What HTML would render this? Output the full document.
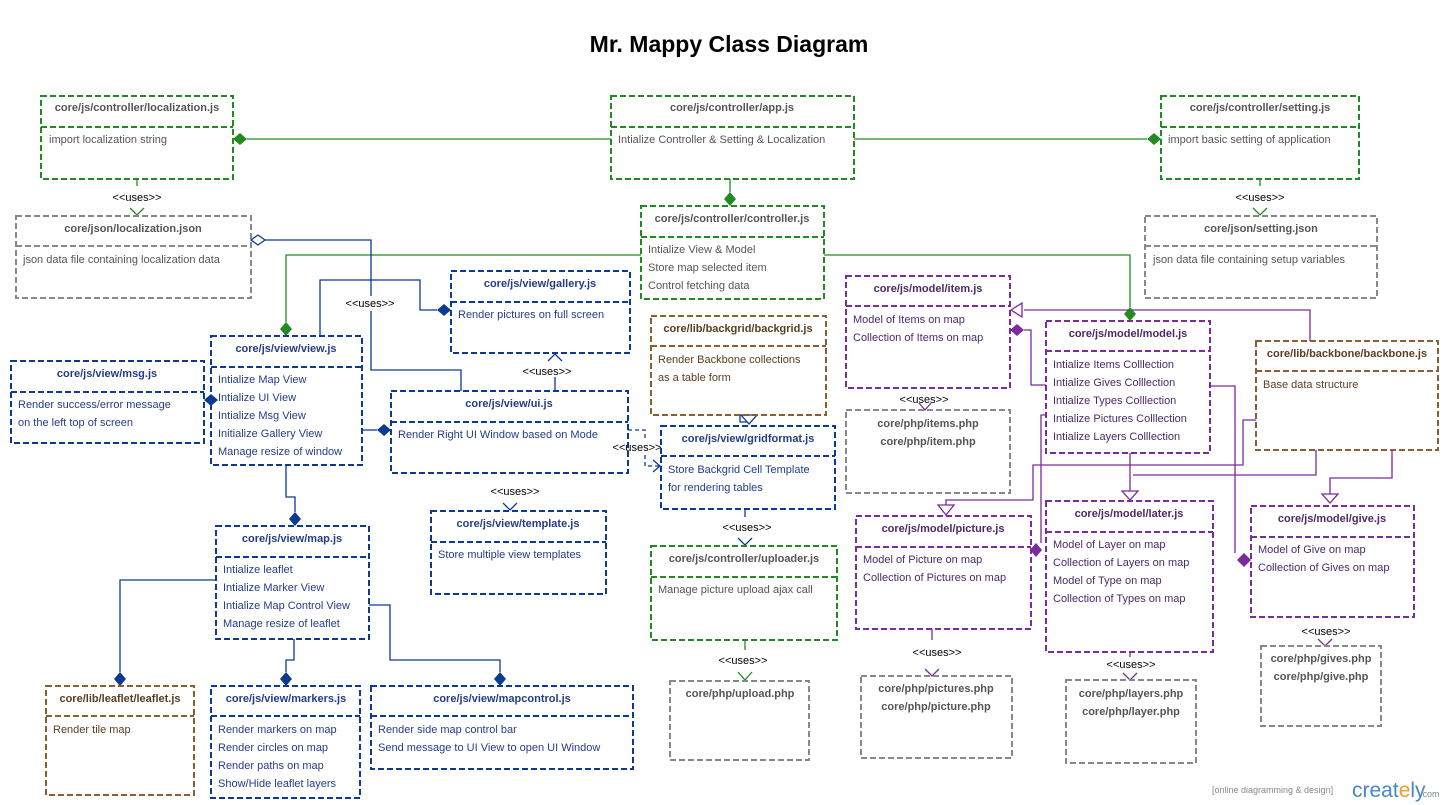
<!DOCTYPE html>
<html><head><meta charset="utf-8"><style>
html,body{margin:0;padding:0;background:#fff}
svg{display:block}
text{font-family:"Liberation Sans",sans-serif;font-size:11px}
.t{font-weight:bold;text-anchor:middle}
.c{text-anchor:middle;font-weight:bold}
.u{font-size:11px;fill:#000;text-anchor:middle}
.bx{fill:none;stroke-width:2;stroke-dasharray:6,3}
.g{stroke:#238a23}.gt{fill:#555}
.bl{stroke:#0c3a91}.blt{fill:#253d85}
.p{stroke:#7a2b9c}.pt{fill:#4a2b66}
.br{stroke:#8b5e34}.brt{fill:#5a3e22}
.gr{stroke:#888}.grt{fill:#555}
</style></head><body>
<svg width="1450" height="805" viewBox="0 0 1450 805" xmlns="http://www.w3.org/2000/svg">
<text x="729" y="52" style="font-size:23px;font-weight:bold;text-anchor:middle" fill="#000">Mr. Mappy Class Diagram</text>

<g fill="none" stroke-width="1.3">
<g stroke="#238a23">
<line x1="247" y1="139" x2="611" y2="139"/>
<line x1="854" y1="139" x2="1147" y2="139"/>
<line x1="730" y1="179" x2="730" y2="192"/>
<polyline points="641,255 286,255 286,322"/>
<polyline points="824,255 1130,255 1130,307"/>
<line x1="137" y1="179" x2="137" y2="186"/>
<polyline points="130,208 137,215 144,208"/>
<line x1="1260" y1="179" x2="1260" y2="186"/>
<polyline points="1253,208 1260,215 1267,208"/>
<line x1="745" y1="640" x2="745" y2="650"/>
<polyline points="738,672 745,680 752,672"/>
</g>
<g stroke="#0c3a91">
<polyline points="265,240 371,240 371,296"/>
<polyline points="371,311 371,370 461,370 461,391"/>
<polyline points="320,336 320,280 420,280 420,310 437,310"/>
<polyline points="362,430 377,430"/>
<polyline points="286,465 286,497 295,497 295,512"/>
<polyline points="216,580 120,580 120,672"/>
<polyline points="294,639 294,660 286,660 286,672"/>
<polyline points="369,605 390,605 390,660 500,660 500,672"/>
<line x1="555" y1="377" x2="555" y2="391"/>
<polyline points="548,361 555,354 562,361"/>
<polyline points="503,503 510,510 517,503"/>
<line x1="745" y1="509" x2="745" y2="517"/>
<polyline points="738,538 745,545 752,538"/>
<polyline points="628,430 645,430 645,440" stroke-dasharray="4,3"/>
<polyline points="645,455 645,466 660,466" stroke-dasharray="4,3"/>
<polyline points="653,460 660,466 653,472"/>
<polyline points="740,415 740,422 748,422"/>
<polygon points="741,415 757,415 749,424" fill="#fff"/>
</g>
<g stroke="#7a2b9c">
<polyline points="1310,341 1310,310 1024,310"/>
<polygon points="1011,310 1022,303 1022,317" fill="#fff"/>
<polyline points="1046,385 1031,385 1031,330 1024,330"/>
<polyline points="1046,415 1041,415 1041,543"/>
<polyline points="1210,386 1235,386 1235,553"/>
<polyline points="1130,453 1130,491"/>
<polyline points="1316,450 1316,475 1133,475"/>
<polygon points="1122,491 1138,491 1130,500" fill="#fff"/>
<polyline points="1256,420 1243,420 1243,465 1033,465 1033,500 946,500 946,505"/>
<polygon points="938,505 954,505 946,515" fill="#fff"/>
<polyline points="1392,450 1392,478 1330,478 1330,494"/>
<polygon points="1322,494 1338,494 1330,503" fill="#fff"/>
<polyline points="919,403 925,410 931,403"/>
<polyline points="925,669 932,676 939,669"/>
<line x1="932" y1="629" x2="932" y2="640"/>
<line x1="1130" y1="652" x2="1130" y2="657"/>
<polyline points="1123,673 1130,680 1137,673"/>
<polyline points="1318,639 1325,646 1332,639"/>
</g>
</g>
<g fill="#238a23"><polygon points="233,139 240,133 247,139 240,145"/><polygon points="1147,139 1154,133 1161,139 1154,145"/><polygon points="730,192 736,199 730,206 724,199"/><polygon points="286,322 292,329 286,336 280,329"/><polygon points="1130,307 1136,314 1130,321 1124,314"/></g>
<polygon points="251,240 258,235 265,240 258,245" fill="#fff" stroke="#0c3a91" stroke-width="1.3"/>
<g fill="#0c3a91"><polygon points="437,310 444,304 451,310 444,316"/><polygon points="204,400 211,394 218,400 211,406"/><polygon points="377,430 384,424 391,430 384,436"/><polygon points="295,512 301,519 295,526 289,519"/><polygon points="120,672 126,679 120,686 114,679"/><polygon points="286,672 292,679 286,686 280,679"/><polygon points="500,672 506,679 500,686 494,679"/></g>
<g fill="#7a2b9c"><polygon points="1010,330 1017,324 1024,330 1017,336"/><polygon points="1030,550 1036,543 1042,550 1036,557"/><polygon points="1237,560 1244,553 1251,560 1244,567"/></g>

<text class="u" x="137" y="201">&lt;&lt;uses&gt;&gt;</text>
<text class="u" x="1260" y="201">&lt;&lt;uses&gt;&gt;</text>
<text class="u" x="370" y="307">&lt;&lt;uses&gt;&gt;</text>
<text class="u" x="547" y="375">&lt;&lt;uses&gt;&gt;</text>
<text class="u" x="637" y="451">&lt;&lt;uses&gt;&gt;</text>
<text class="u" x="515" y="495">&lt;&lt;uses&gt;&gt;</text>
<text class="u" x="747" y="531">&lt;&lt;uses&gt;&gt;</text>
<text class="u" x="743" y="664">&lt;&lt;uses&gt;&gt;</text>
<text class="u" x="924" y="403">&lt;&lt;uses&gt;&gt;</text>
<text class="u" x="937" y="656">&lt;&lt;uses&gt;&gt;</text>
<text class="u" x="1131" y="668">&lt;&lt;uses&gt;&gt;</text>
<text class="u" x="1326" y="635">&lt;&lt;uses&gt;&gt;</text>

<g class="bx g"><rect x="41" y="96" width="192" height="83"/><line x1="41" y1="127" x2="233" y2="127"/></g>
<text class="t gt" x="137" y="111">core/js/controller/localization.js</text>
<text class="gt" x="49" y="143">import localization string</text>

<g class="bx g"><rect x="611" y="96" width="243" height="83"/><line x1="611" y1="127" x2="854" y2="127"/></g>
<text class="t gt" x="732" y="111">core/js/controller/app.js</text>
<text class="gt" x="618" y="143">Intialize Controller &amp; Setting &amp; Localization</text>

<g class="bx g"><rect x="1161" y="96" width="198" height="83"/><line x1="1161" y1="127" x2="1359" y2="127"/></g>
<text class="t gt" x="1260" y="111">core/js/controller/setting.js</text>
<text class="gt" x="1168" y="143">import basic setting of application</text>

<g class="bx gr"><rect x="16" y="216" width="235" height="82"/><line x1="16" y1="246" x2="251" y2="246"/></g>
<text class="t grt" x="133" y="232">core/json/localization.json</text>
<text class="grt" x="23" y="263">json data file containing localization data</text>

<g class="bx g"><rect x="641" y="206" width="183" height="93"/><line x1="641" y1="237" x2="824" y2="237"/></g>
<text class="t gt" x="732" y="222">core/js/controller/controller.js</text>
<text class="gt" x="648" y="253">Intialize View &amp; Model</text>
<text class="gt" x="648" y="271">Store map selected item</text>
<text class="gt" x="648" y="289">Control fetching data</text>

<g class="bx gr"><rect x="1145" y="216" width="232" height="82"/><line x1="1145" y1="246" x2="1377" y2="246"/></g>
<text class="t grt" x="1261" y="232">core/json/setting.json</text>
<text class="grt" x="1153" y="263">json data file containing setup variables</text>

<g class="bx bl"><rect x="451" y="271" width="179" height="82"/><line x1="451" y1="302" x2="630" y2="302"/></g>
<text class="t blt" x="540" y="287">core/js/view/gallery.js</text>
<text class="blt" x="458" y="318">Render pictures on full screen</text>

<g class="bx br"><rect x="651" y="316" width="175" height="99"/><line x1="651" y1="346" x2="826" y2="346"/></g>
<text class="t brt" x="738" y="332">core/lib/backgrid/backgrid.js</text>
<text class="brt" x="658" y="363">Render Backbone collections</text>
<text class="brt" x="658" y="381">as a table form</text>

<g class="bx p"><rect x="846" y="276" width="164" height="112"/><line x1="846" y1="306" x2="1010" y2="306"/></g>
<text class="t pt" x="928" y="292">core/js/model/item.js</text>
<text class="pt" x="853" y="323">Model of Items on map</text>
<text class="pt" x="853" y="341">Collection of Items on map</text>

<g class="bx p"><rect x="1046" y="321" width="164" height="132"/><line x1="1046" y1="351" x2="1210" y2="351"/></g>
<text class="t pt" x="1128" y="337">core/js/model/model.js</text>
<text class="pt" x="1053" y="368">Intialize Items Colllection</text>
<text class="pt" x="1053" y="386">Intialize Gives Colllection</text>
<text class="pt" x="1053" y="404">Intialize Types Colllection</text>
<text class="pt" x="1053" y="422">Intialize Pictures Colllection</text>
<text class="pt" x="1053" y="440">Intialize Layers Colllection</text>

<g class="bx br"><rect x="1256" y="341" width="182" height="109"/><line x1="1256" y1="371" x2="1438" y2="371"/></g>
<text class="t brt" x="1347" y="357">core/lib/backbone/backbone.js</text>
<text class="brt" x="1263" y="388">Base data structure</text>

<g class="bx bl"><rect x="211" y="336" width="151" height="129"/><line x1="211" y1="367" x2="362" y2="367"/></g>
<text class="t blt" x="286" y="352">core/js/view/view.js</text>
<text class="blt" x="218" y="383">Intialize Map View</text>
<text class="blt" x="218" y="401">Intialize UI View</text>
<text class="blt" x="218" y="419">Intialize Msg View</text>
<text class="blt" x="218" y="437">Initialize Gallery View</text>
<text class="blt" x="218" y="455">Manage resize of window</text>

<g class="bx bl"><rect x="11" y="361" width="193" height="82"/><line x1="11" y1="392" x2="204" y2="392"/></g>
<text class="t blt" x="107" y="377">core/js/view/msg.js</text>
<text class="blt" x="18" y="408">Render success/error message</text>
<text class="blt" x="18" y="426">on the left top of screen</text>

<g class="bx bl"><rect x="391" y="391" width="237" height="82"/><line x1="391" y1="422" x2="628" y2="422"/></g>
<text class="t blt" x="509" y="407">core/js/view/ui.js</text>
<text class="blt" x="398" y="438">Render Right UI Window based on Mode</text>

<g class="bx bl"><rect x="661" y="426" width="174" height="83"/><line x1="661" y1="456" x2="835" y2="456"/></g>
<text class="t blt" x="748" y="442">core/js/view/gridformat.js</text>
<text class="blt" x="668" y="473">Store Backgrid Cell Template</text>
<text class="blt" x="668" y="491">for rendering tables</text>

<g class="bx gr"><rect x="846" y="410" width="164" height="83"/></g>
<text class="c grt" x="928" y="427">core/php/items.php</text>
<text class="c grt" x="928" y="445">core/php/item.php</text>

<g class="bx bl"><rect x="431" y="511" width="175" height="83"/><line x1="431" y1="542" x2="606" y2="542"/></g>
<text class="t blt" x="518" y="527">core/js/view/template.js</text>
<text class="blt" x="438" y="558">Store multiple view templates</text>

<g class="bx bl"><rect x="216" y="526" width="153" height="113"/><line x1="216" y1="557" x2="369" y2="557"/></g>
<text class="t blt" x="292" y="542">core/js/view/map.js</text>
<text class="blt" x="223" y="573">Intialize leaflet</text>
<text class="blt" x="223" y="591">Intialize Marker View</text>
<text class="blt" x="223" y="609">Intialize Map Control View</text>
<text class="blt" x="223" y="627">Manage resize of leaflet</text>

<g class="bx g"><rect x="651" y="546" width="186" height="94"/><line x1="651" y1="577" x2="837" y2="577"/></g>
<text class="t gt" x="744" y="562">core/js/controller/uploader.js</text>
<text class="gt" x="658" y="593">Manage picture upload ajax call</text>

<g class="bx p"><rect x="856" y="516" width="175" height="113"/><line x1="856" y1="547" x2="1031" y2="547"/></g>
<text class="t pt" x="943" y="532">core/js/model/picture.js</text>
<text class="pt" x="863" y="563">Model of Picture on map</text>
<text class="pt" x="863" y="581">Collection of Pictures on map</text>

<g class="bx p"><rect x="1046" y="501" width="167" height="151"/><line x1="1046" y1="532" x2="1213" y2="532"/></g>
<text class="t pt" x="1129" y="517">core/js/model/later.js</text>
<text class="pt" x="1053" y="548">Model of Layer on map</text>
<text class="pt" x="1053" y="566">Collection of Layers on map</text>
<text class="pt" x="1053" y="584">Model of Type on map</text>
<text class="pt" x="1053" y="602">Collection of Types on map</text>

<g class="bx p"><rect x="1251" y="506" width="163" height="111"/><line x1="1251" y1="537" x2="1414" y2="537"/></g>
<text class="t pt" x="1332" y="522">core/js/model/give.js</text>
<text class="pt" x="1258" y="553">Model of Give on map</text>
<text class="pt" x="1258" y="571">Collection of Gives on map</text>

<g class="bx gr"><rect x="1261" y="646" width="120" height="80"/></g>
<text class="c grt" x="1321" y="662">core/php/gives.php</text>
<text class="c grt" x="1321" y="680">core/php/give.php</text>

<g class="bx br"><rect x="46" y="686" width="148" height="109"/><line x1="46" y1="716" x2="194" y2="716"/></g>
<text class="t brt" x="120" y="702">core/lib/leaflet/leaflet.js</text>
<text class="brt" x="53" y="733">Render tile map</text>

<g class="bx bl"><rect x="211" y="686" width="149" height="112"/><line x1="211" y1="716" x2="360" y2="716"/></g>
<text class="t blt" x="286" y="702">core/js/view/markers.js</text>
<text class="blt" x="218" y="733">Render markers on map</text>
<text class="blt" x="218" y="751">Render circles on map</text>
<text class="blt" x="218" y="769">Render paths on map</text>
<text class="blt" x="218" y="787">Show/Hide leaflet layers</text>

<g class="bx bl"><rect x="371" y="686" width="262" height="83"/><line x1="371" y1="716" x2="633" y2="716"/></g>
<text class="t blt" x="502" y="702">core/js/view/mapcontrol.js</text>
<text class="blt" x="378" y="733">Render side map control bar</text>
<text class="blt" x="378" y="751">Send message to UI View to open UI Window</text>

<g class="bx gr"><rect x="670" y="681" width="139" height="79"/></g>
<text class="c grt" x="740" y="697">core/php/upload.php</text>

<g class="bx gr"><rect x="861" y="676" width="151" height="82"/></g>
<text class="c grt" x="936" y="692">core/php/pictures.php</text>
<text class="c grt" x="936" y="710">core/php/picture.php</text>

<g class="bx gr"><rect x="1066" y="680" width="130" height="83"/></g>
<text class="c grt" x="1131" y="697">core/php/layers.php</text>
<text class="c grt" x="1131" y="715">core/php/layer.php</text>

<text x="1212" y="793" style="font-size:9px" fill="#888">[online diagramming &amp; design]</text>
<text x="1352" y="797" style="font-size:21px" fill="#4a86c5">creat<tspan fill="#f0a020">e</tspan>ly</text>
<text x="1420" y="797" style="font-size:9px" fill="#888">.com</text>
</svg>
</body></html>
